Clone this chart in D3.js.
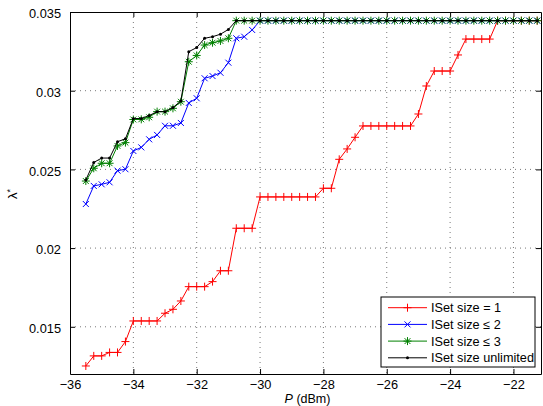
<!DOCTYPE html>
<html>
<head>
<meta charset="utf-8">
<script src="https://cdn.jsdelivr.net/npm/d3@7"></script>
<style>
  body { margin: 0; background: #fff; }
  text { font-family: "Liberation Sans", Arial, Helvetica, sans-serif; }
</style>
</head>
<body>
<div id="chart"></div>
<script>
// P (dBm) sample points
var pValues = [-35.5, -35.25, -35, -34.75, -34.5, -34.25, -34, -33.75, -33.5, -33.25,
  -33, -32.75, -32.5, -32.25, -32, -31.75, -31.5, -31.25, -31, -30.75,
  -30.5, -30.25, -30, -29.75, -29.5, -29.25, -29, -28.75, -28.5, -28.25,
  -28, -27.75, -27.5, -27.25, -27, -26.75, -26.5, -26.25, -26, -25.75,
  -25.5, -25.25, -25, -24.75, -24.5, -24.25, -24, -23.75, -23.5, -23.25,
  -23, -22.75, -22.5, -22.25, -22, -21.75, -21.5, -21.25];

var size1 = [0.01251, 0.01315, 0.01315, 0.01337, 0.01337, 0.01406, 0.01537, 0.01537, 0.01537, 0.01537,
  0.01586, 0.01611, 0.01664, 0.01755, 0.01755, 0.01755, 0.01787, 0.01856, 0.01856, 0.02126,
  0.02126, 0.02126, 0.02325, 0.02325, 0.02325, 0.02325, 0.02325, 0.02325, 0.02325, 0.02325,
  0.0238, 0.0238, 0.02564, 0.0263, 0.02704, 0.02776, 0.02776, 0.02776, 0.02776, 0.02776,
  0.02776, 0.02776, 0.02852, 0.0303, 0.03125, 0.03125, 0.03125, 0.03227, 0.03328, 0.03328,
  0.03328, 0.03328, 0.03445, 0.03445, 0.03445, 0.03445, 0.03445, 0.03445];

var size2 = [0.0228, 0.02395, 0.02405, 0.02418, 0.02492, 0.02501, 0.02617, 0.0264, 0.02691, 0.02719,
  0.02777, 0.02777, 0.02795, 0.02922, 0.02952, 0.03079, 0.03093, 0.03114, 0.03178, 0.03333,
  0.03343, 0.03386, 0.03445, 0.03445, 0.03445, 0.03445, 0.03445, 0.03445, 0.03445, 0.03445,
  0.03445, 0.03445, 0.03445, 0.03445, 0.03445, 0.03445, 0.03445, 0.03445, 0.03445, 0.03445,
  0.03445, 0.03445, 0.03445, 0.03445, 0.03445, 0.03445, 0.03445, 0.03445, 0.03445, 0.03445,
  0.03445, 0.03445, 0.03445, 0.03445, 0.03445, 0.03445, 0.03445, 0.03445];

var size3 = [0.02426, 0.02507, 0.02539, 0.02539, 0.02649, 0.0267, 0.02817, 0.02818, 0.02831, 0.02867,
  0.02867, 0.02888, 0.0293, 0.03184, 0.03224, 0.0329, 0.03305, 0.03316, 0.03333, 0.03445,
  0.03445, 0.03445, 0.03445, 0.03445, 0.03445, 0.03445, 0.03445, 0.03445, 0.03445, 0.03445,
  0.03445, 0.03445, 0.03445, 0.03445, 0.03445, 0.03445, 0.03445, 0.03445, 0.03445, 0.03445,
  0.03445, 0.03445, 0.03445, 0.03445, 0.03445, 0.03445, 0.03445, 0.03445, 0.03445, 0.03445,
  0.03445, 0.03445, 0.03445, 0.03445, 0.03445, 0.03445, 0.03445, 0.03445];

var sizeUnl = [0.02433, 0.02544, 0.02572, 0.02572, 0.02676, 0.02694, 0.02823, 0.02823, 0.02842, 0.02867,
  0.02867, 0.02893, 0.02935, 0.03248, 0.03274, 0.03333, 0.03343, 0.03359, 0.03389, 0.03445,
  0.03445, 0.03445, 0.03445, 0.03445, 0.03445, 0.03445, 0.03445, 0.03445, 0.03445, 0.03445,
  0.03445, 0.03445, 0.03445, 0.03445, 0.03445, 0.03445, 0.03445, 0.03445, 0.03445, 0.03445,
  0.03445, 0.03445, 0.03445, 0.03445, 0.03445, 0.03445, 0.03445, 0.03445, 0.03445, 0.03445,
  0.03445, 0.03445, 0.03445, 0.03445, 0.03445, 0.03445, 0.03445, 0.03445];

var seriesNames = ["ISet size = 1", "ISet size \u2264 2", "ISet size \u2264 3", "ISet size unlimited"];
var xTicks = [-36, -34, -32, -30, -28, -26, -24, -22];
var yTicks = [0.015, 0.02, 0.025, 0.03, 0.035];
var yTickLabels = ["0.015", "0.02", "0.025", "0.03", "0.035"];

// dimensions
var W = 543, H = 406;
var margin = {top: 12, right: 2, bottom: 32, left: 70},
    width = W - margin.left - margin.right,
    height = H - margin.top - margin.bottom;

var svg = d3.select("#chart")
  .append("svg")
    .attr("width", W)
    .attr("height", H)
  .append("g")
    .attr("transform", "translate(" + margin.left + "," + margin.top + ")");

var x = d3.scaleLinear().domain([-36, -21.13]).range([0, width]);
var y = d3.scaleLinear().domain([0.012, 0.035]).range([height, 0]);

// grid
svg.append("g").selectAll("line.vg")
  .data(xTicks.filter(function(d) { return d > -36; }))
  .enter().append("line")
    .attr("x1", function(d) { return x(d); })
    .attr("x2", function(d) { return x(d); })
    .attr("y1", 0).attr("y2", height)
    .attr("stroke", "#555").attr("stroke-width", 0.8)
    .attr("stroke-dasharray", "1,4");
svg.append("g").selectAll("line.hg")
  .data(yTicks.filter(function(d) { return d < 0.035; }))
  .enter().append("line")
    .attr("x1", 0).attr("x2", width)
    .attr("y1", function(d) { return y(d); })
    .attr("y2", function(d) { return y(d); })
    .attr("stroke", "#555").attr("stroke-width", 0.8)
    .attr("stroke-dasharray", "1,4");

// axes (inward ticks on all sides)
var fmtX = function(d) { return d3.format("d")(d).replace("-", "\u2212"); };
var xAxis = svg.append("g")
  .attr("transform", "translate(0," + height + ")")
  .call(d3.axisBottom(x).tickValues(xTicks).tickSizeInner(-5).tickSizeOuter(0).tickPadding(5.5).tickFormat(fmtX));
var xTop = svg.append("g")
  .call(d3.axisTop(x).tickValues(xTicks).tickSizeInner(-5).tickSizeOuter(0).tickFormat(""));
var yAxis = svg.append("g")
  .call(d3.axisLeft(y).tickValues(yTicks).tickSizeInner(-5).tickSizeOuter(0).tickPadding(9)
    .tickFormat(function(d, i) { return yTickLabels[i]; }));
var yRight = svg.append("g")
  .attr("transform", "translate(" + width + ",0)")
  .call(d3.axisRight(y).tickValues(yTicks).tickSizeInner(-5).tickSizeOuter(0).tickFormat(""));

svg.selectAll(".domain").attr("stroke", "#000").attr("stroke-width", 1);
svg.selectAll(".tick line").attr("stroke", "#000");
svg.selectAll(".tick text").attr("fill", "#000").style("font-size", "12.8px")
  .style("font-family", "'Liberation Sans', Arial, sans-serif");
yAxis.selectAll(".tick text").attr("dy", "0.45em");

// series
var series = [
  {name: seriesNames[0], values: size1, color: "#ff0000", marker: "plus"},
  {name: seriesNames[1], values: size2, color: "#0000ff", marker: "cross"},
  {name: seriesNames[2], values: size3, color: "#008000", marker: "star"},
  {name: seriesNames[3], values: sizeUnl, color: "#000000", marker: "dot"}
];

var markerPath = {
  plus: "M-4,0H4M0,-4V4",
  cross: "M-3,-3L3,3M-3,3L3,-3",
  star: "M-4,0H4M0,-4V4M-2.9,-2.9L2.9,2.9M-2.9,2.9L2.9,-2.9"
};

function drawMarker(sel, m, color) {
  if (m === "dot") {
    sel.append("circle").attr("r", 1.5).attr("fill", color);
  } else {
    sel.append("path").attr("d", markerPath[m])
      .attr("fill", "none").attr("stroke", color).attr("stroke-width", 1);
  }
}

var line = d3.line()
  .x(function(d) { return x(d[0]); })
  .y(function(d) { return y(d[1]); });

series.forEach(function(s) {
  var pts = pValues.map(function(p, i) { return [p, s.values[i]]; });
  var g = svg.append("g");
  g.append("path")
    .datum(pts)
    .attr("d", line)
    .attr("fill", "none")
    .attr("stroke", s.color)
    .attr("stroke-width", 1);
  g.selectAll("g.mk")
    .data(pts)
    .enter().append("g")
      .attr("transform", function(d) { return "translate(" + x(d[0]) + "," + y(d[1]) + ")"; })
      .each(function() { drawMarker(d3.select(this), s.marker, s.color); });
});

// legend
var lg = svg.append("g").attr("transform", "translate(" + (381 - margin.left) + "," + (297 - margin.top) + ")");
lg.append("rect")
  .attr("width", 154).attr("height", 70)
  .attr("fill", "#fff").attr("stroke", "#000").attr("stroke-width", 1);
series.forEach(function(s, i) {
  var row = lg.append("g").attr("transform", "translate(0," + (10.7 + i * 16.7) + ")");
  row.append("line").attr("x1", 7).attr("x2", 46).attr("y1", 0).attr("y2", 0)
    .attr("stroke", s.color).attr("stroke-width", 1);
  drawMarker(row.append("g").attr("transform", "translate(26.5,0)"), s.marker, s.color);
  row.append("text").attr("x", 50).attr("y", 0).attr("dy", "0.36em")
    .style("font-size", "12.7px").text(s.name);
});

// axis labels
var xl = svg.append("text")
  .attr("x", width / 2 + 2).attr("y", height + 29)
  .attr("text-anchor", "middle").style("font-size", "12.5px");
xl.append("tspan").style("font-style", "italic").text("P");
xl.append("tspan").text(" (dBm)");

var yl = svg.append("text")
  .attr("transform", "translate(" + (17 - margin.left) + "," + (194 - margin.top) + ") rotate(-90)")
  .attr("text-anchor", "middle").style("font-size", "13px");
yl.append("tspan").text("\u03bb");
yl.append("tspan").attr("dy", "-0.45em").style("font-size", "9px").text("*");
</script>
</body>
</html>
